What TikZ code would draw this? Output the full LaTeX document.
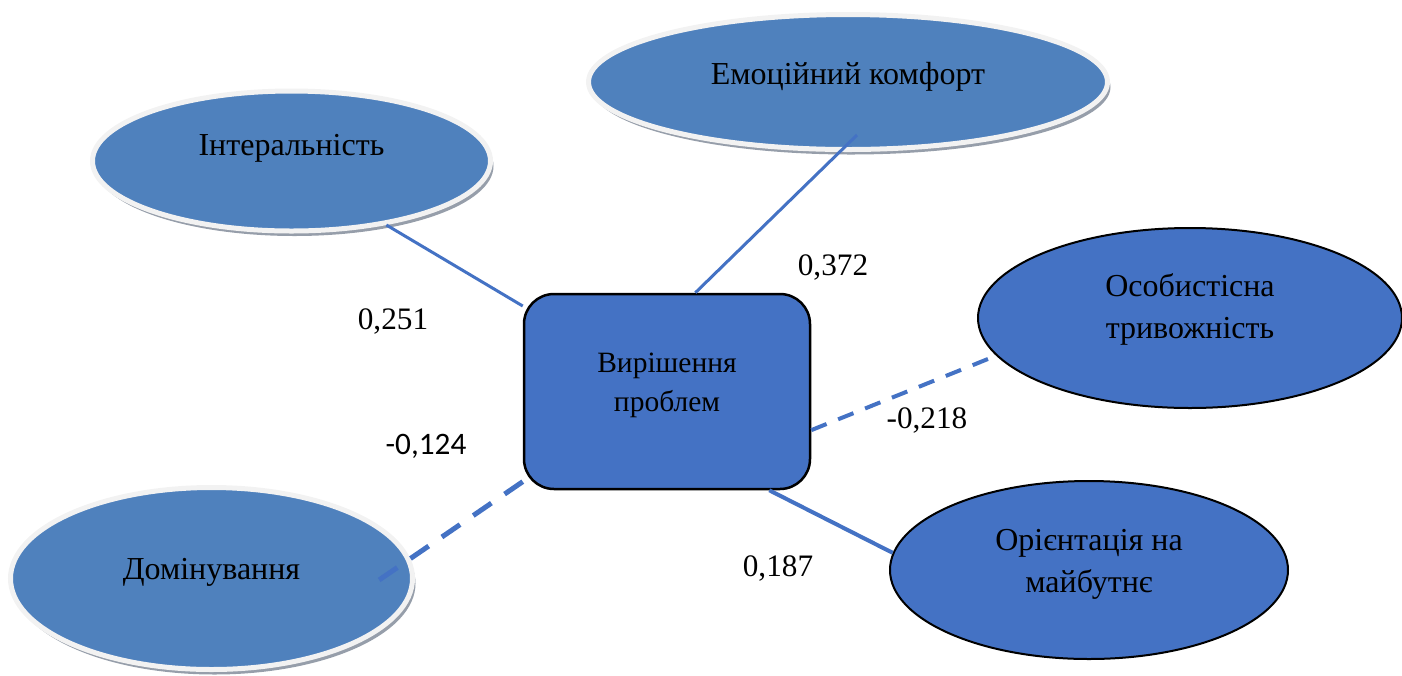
\documentclass[tikz,border=0pt]{standalone}
\usepackage{fontspec}
\setmainfont{Liberation Serif}
\newfontfamily\numfont{Carlito}
\usetikzlibrary{shapes.geometric,shadows,positioning}
\newdimen\px \px=0.4pt
\definecolor{ovalfill}{RGB}{79,129,189}
\definecolor{boxfill}{RGB}{68,114,196}
\definecolor{rimcol}{RGB}{242,242,242}
\definecolor{shadecol}{RGB}{150,158,170}
\definecolor{linkcol}{RGB}{68,114,196}
\tikzstyle{softoval} = [ellipse, inner sep=0pt, fill=ovalfill, draw=rimcol, line width=5\px, drop shadow={shadow xshift=3\px, shadow yshift=-5\px, fill=shadecol, opacity=1}, font=\fontsize{12.8}{16}\selectfont, text height=0pt, text depth=0pt]
\tikzstyle{plainoval} = [ellipse, inner sep=0pt, fill=boxfill, draw=black, line width=2\px, align=center, font=\fontsize{12.8}{16.8}\selectfont]
\tikzstyle{centrebox} = [rectangle, rounded corners=30\px, minimum width=286\px, minimum height=195\px, fill=boxfill, draw=black, line width=2.5\px, align=center, font=\fontsize{11.8}{15.6}\selectfont]
\tikzstyle{weight} = [font=\fontsize{12.5}{15}\selectfont, inner sep=0pt]
\tikzstyle{link} = [draw=linkcol, line width=3\px]
\tikzstyle{dashlink} = [link, line width=4\px, dash pattern=on 6.6pt off 5pt]
\begin{document}
\begin{tikzpicture}[x=0.4pt, y=-0.4pt]
\useasboundingbox (0,0) rectangle (1402,675);

\node (intr) [softoval, minimum width=398\px, minimum height=140\px, text depth=11\px] at (291.5,161) {Інтеральність};
\node (emo) [softoval, minimum width=519\px, minimum height=135\px, text height=4\px] at (848,82) {Емоційний комфорт};
\node (dom) [softoval, minimum width=402\px, minimum height=182\px, text height=2\px] at (211.5,578.5) {Домінування};
\node (osob) [plainoval, minimum width=424\px, minimum height=180\px, text height=41\px, text depth=0pt] at (1190,318) {Особистісна\\тривожність};
\node (orient) [plainoval, minimum width=398\px, minimum height=178\px, text height=45\px, text depth=0pt] at (1089,570) {Орієнтація на\\майбутнє};
\node (prob) [centrebox, text height=40\px, text depth=0pt] at (667,391.5) {Вирішення\\проблем};

\coordinate (emoend) at ([shift={(9,53)}]emo.center);
\coordinate (domend) at ([shift={(161,6)}]dom.center);

\draw [link] (intr.-34) -- (prob);
\draw [link] (prob.74) -- (emoend);
\draw [dashlink] (prob.-15) -- (osob.191);
\draw [link, line width=4\px] (prob.-44) -- (orient.175);
\draw [link, line width=5\px, dash pattern=on 8.8pt off 6.4pt] (prob.212) -- (domend);

\node (w1) [weight] at (393,322) {0,251};
\node (w2) [weight] at (833,268) {0,372};
\node (w3) [weight] at (927,421) {-0,218};
\node (w4) [weight, font=\numfont\fontsize{12.5}{15}\selectfont] at (426,446) {-0,124};
\node (w5) [weight] at (778,569) {0,187};

\end{tikzpicture}
\end{document}
